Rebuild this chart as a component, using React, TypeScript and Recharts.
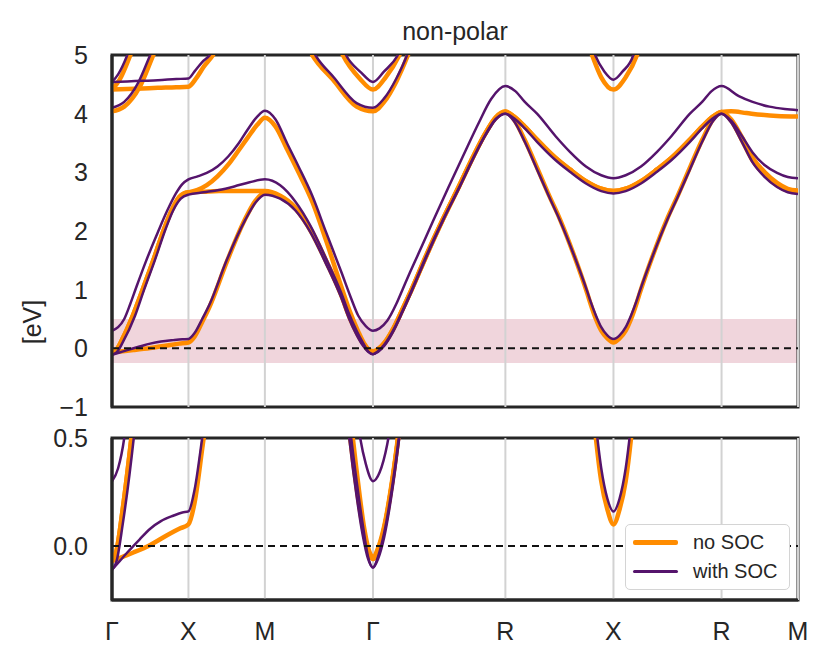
import React from 'react';
import { LineChart, Line, XAxis, YAxis, ReferenceLine, ReferenceArea, Legend } from 'recharts';

const ORANGE = '#ff8c00';
const PURPLE = '#55146c';
const INK = '#262626';
const FONT = '"Liberation Sans", Arial, sans-serif';

// high-symmetry path Γ-X-M-Γ-R-X-R-M (k in path length units)
const kTicks = [0, 0.5, 1.0, 1.707, 2.573, 3.28, 3.987, 4.487];
const kLabels = ['Γ', 'X', 'M', 'Γ', 'R', 'X', 'R', 'M'];
const kMax = 4.487;
const mainTicks = [-1, 0, 1, 2, 3, 4, 5];
const zoomTicks = [0, 0.5];

// no SOC bands [k, E]
const ncA = [
  [0, -0.07], [0.07, -0.05], [0.14, -0.03], [0.25, 0.005], [0.36, 0.05], [0.44, 0.08], [0.5, 0.1],
  [0.54, 0.2], [0.59, 0.45], [0.64, 0.72], [0.75, 1.47], [0.87, 2.2], [0.94, 2.52], [1.0, 2.65],
  [1.1, 2.58], [1.2, 2.38], [1.3, 2.0], [1.4, 1.48], [1.5, 0.9], [1.55, 0.55], [1.6, 0.27], [1.64, 0.09], [1.675, -0.02], [1.707, -0.06],
  [1.74, -0.02], [1.78, 0.08], [1.84, 0.33], [1.9, 0.66], [1.96, 1.0], [2.06, 1.6], [2.165, 2.2], [2.27, 2.76], [2.36, 3.25], [2.44, 3.65], [2.51, 3.93], [2.573, 4.03],
  [2.63, 3.9], [2.7, 3.55], [2.78, 3.08], [2.86, 2.6], [2.93, 2.2], [3.02, 1.6], [3.107, 0.95], [3.13, 0.76], [3.165, 0.5], [3.2, 0.3], [3.24, 0.17], [3.28, 0.1],
  [3.32, 0.17], [3.36, 0.3], [3.395, 0.5], [3.43, 0.76], [3.453, 0.95], [3.54, 1.6], [3.63, 2.2], [3.7, 2.6], [3.78, 3.08], [3.86, 3.55], [3.93, 3.9], [3.987, 4.03],
  [4.05, 3.88], [4.12, 3.55], [4.19, 3.2], [4.27, 2.95], [4.35, 2.78], [4.42, 2.69], [4.487, 2.66],
];
const ncB = [
  [0, -0.07], [0.03, -0.02], [0.07, 0.17], [0.13, 0.52], [0.2, 1.0], [0.27, 1.5], [0.34, 2.03], [0.39, 2.35], [0.44, 2.58], [0.47, 2.64], [0.5, 2.66],
  [0.6, 2.67], [0.7, 2.68], [0.8, 2.68], [0.9, 2.68], [1.0, 2.68],
  [1.1, 2.6], [1.2, 2.4], [1.3, 2.03], [1.4, 1.5], [1.5, 0.92], [1.55, 0.57], [1.6, 0.28], [1.64, 0.1], [1.675, -0.02], [1.707, -0.06],
  [1.74, -0.02], [1.78, 0.08], [1.84, 0.33], [1.9, 0.66], [1.96, 1.0], [2.06, 1.6], [2.165, 2.2], [2.27, 2.76], [2.36, 3.25], [2.44, 3.65], [2.51, 3.93], [2.573, 4.03],
  [2.63, 3.95], [2.7, 3.78], [2.78, 3.56], [2.9, 3.25], [2.995, 3.05], [3.1, 2.85], [3.2, 2.72], [3.28, 2.68],
  [3.36, 2.72], [3.46, 2.85], [3.565, 3.05], [3.66, 3.25], [3.78, 3.56], [3.86, 3.78], [3.93, 3.95], [3.987, 4.03],
  [4.05, 3.9], [4.12, 3.6], [4.19, 3.25], [4.27, 3.0], [4.35, 2.82], [4.42, 2.72], [4.487, 2.69],
];
const ncC = [
  [0, -0.07], [0.03, -0.02], [0.07, 0.17], [0.13, 0.52], [0.2, 1.0], [0.27, 1.5], [0.34, 2.03], [0.39, 2.35], [0.44, 2.58], [0.47, 2.64], [0.5, 2.66],
  [0.56, 2.7], [0.62, 2.78], [0.69, 2.93], [0.76, 3.13], [0.83, 3.38], [0.89, 3.6], [0.95, 3.81], [1.0, 3.93],
  [1.07, 3.78], [1.144, 3.4], [1.22, 3.0], [1.31, 2.5], [1.4, 1.84], [1.5, 1.05], [1.56, 0.6], [1.61, 0.29], [1.65, 0.08], [1.68, -0.02], [1.707, -0.05],
  [1.74, -0.01], [1.78, 0.09], [1.84, 0.34], [1.9, 0.67], [1.96, 1.01], [2.06, 1.62], [2.165, 2.21], [2.27, 2.77], [2.36, 3.26], [2.44, 3.66], [2.51, 3.94], [2.573, 4.04],
  [2.63, 3.95], [2.7, 3.78], [2.78, 3.56], [2.9, 3.25], [2.995, 3.05], [3.1, 2.85], [3.2, 2.72], [3.28, 2.68],
  [3.36, 2.72], [3.46, 2.85], [3.565, 3.05], [3.66, 3.25], [3.78, 3.56], [3.86, 3.78], [3.93, 3.95], [3.987, 4.03],
  [4.05, 4.04], [4.15, 4.01], [4.25, 3.98], [4.35, 3.96], [4.487, 3.95],
];
const ncUpFlat = [[0, 4.41], [0.1, 4.42], [0.2, 4.43], [0.3, 4.44], [0.42, 4.45], [0.5, 4.46], [0.55, 4.6], [0.6, 4.8], [0.66, 5.0], [0.72, 5.3]];
const ncUpSteep1 = [[0, 4.41], [0.05, 4.58], [0.12, 5.0], [0.17, 5.35]];
const ncUpSteep2 = [[0, 4.04], [0.08, 4.12], [0.18, 4.45], [0.27, 5.0], [0.32, 5.3]];
const ncUpG1 = [[1.25, 5.3], [1.31, 5.0], [1.445, 4.58], [1.6, 4.12], [1.707, 4.04], [1.78, 4.2], [1.86, 4.55], [1.936, 5.0], [1.98, 5.3]];
const ncUpG2 = [[1.46, 5.3], [1.51, 5.0], [1.62, 4.6], [1.707, 4.41], [1.79, 4.62], [1.88, 5.0], [1.93, 5.3]];
const ncUpX = [[3.1, 5.3], [3.14, 5.0], [3.2, 4.62], [3.28, 4.41], [3.36, 4.62], [3.434, 5.0], [3.47, 5.3]];

// with SOC bands [k, E]
const scA = [
  [0, -0.11], [0.05, -0.07], [0.1, -0.03], [0.18, 0.03], [0.25, 0.08], [0.32, 0.115], [0.4, 0.14], [0.46, 0.155], [0.5, 0.16],
  [0.54, 0.26], [0.59, 0.5], [0.64, 0.76], [0.75, 1.5], [0.87, 2.18], [0.94, 2.49], [1.0, 2.62],
  [1.1, 2.55], [1.2, 2.35], [1.3, 1.97], [1.4, 1.44], [1.5, 0.86], [1.55, 0.51], [1.6, 0.23], [1.64, 0.05], [1.675, -0.06], [1.707, -0.1],
  [1.74, -0.06], [1.78, 0.04], [1.84, 0.29], [1.9, 0.62], [1.96, 0.97], [2.06, 1.58], [2.165, 2.18], [2.27, 2.73], [2.36, 3.22], [2.44, 3.62], [2.51, 3.9], [2.573, 4.0],
  [2.63, 3.87], [2.7, 3.52], [2.78, 3.05], [2.86, 2.58], [2.93, 2.18], [3.02, 1.6], [3.107, 0.98], [3.13, 0.8], [3.165, 0.56], [3.2, 0.36], [3.24, 0.22], [3.28, 0.16],
  [3.32, 0.22], [3.36, 0.36], [3.395, 0.56], [3.43, 0.8], [3.453, 0.98], [3.54, 1.6], [3.63, 2.18], [3.7, 2.58], [3.78, 3.05], [3.86, 3.52], [3.93, 3.87], [3.987, 4.0],
  [4.05, 3.85], [4.12, 3.52], [4.19, 3.17], [4.27, 2.92], [4.35, 2.75], [4.42, 2.66], [4.487, 2.63],
];
const scB = [
  [0, -0.11], [0.03, -0.07], [0.07, 0.1], [0.15, 0.55], [0.21, 1.0], [0.28, 1.5], [0.35, 2.03], [0.4, 2.35], [0.45, 2.55], [0.5, 2.62],
  [0.6, 2.66], [0.7, 2.7], [0.8, 2.76], [0.9, 2.83], [1.0, 2.88],
  [1.1, 2.78], [1.2, 2.5], [1.3, 2.08], [1.4, 1.53], [1.5, 0.94], [1.55, 0.59], [1.6, 0.3], [1.64, 0.1], [1.675, -0.05], [1.707, -0.1],
  [1.74, -0.05], [1.78, 0.06], [1.84, 0.31], [1.9, 0.64], [1.96, 0.99], [2.06, 1.6], [2.165, 2.19], [2.27, 2.74], [2.36, 3.23], [2.44, 3.63], [2.51, 3.91], [2.573, 4.0],
  [2.63, 3.92], [2.7, 3.75], [2.78, 3.52], [2.9, 3.21], [2.995, 3.01], [3.1, 2.81], [3.2, 2.68], [3.28, 2.64],
  [3.36, 2.68], [3.46, 2.81], [3.565, 3.01], [3.66, 3.21], [3.78, 3.52], [3.86, 3.75], [3.93, 3.92], [3.987, 4.0],
  [4.05, 3.88], [4.12, 3.62], [4.19, 3.34], [4.27, 3.12], [4.35, 2.99], [4.42, 2.92], [4.487, 2.9],
];
const scC = [
  [0, 0.3], [0.04, 0.36], [0.08, 0.5], [0.12, 0.76], [0.16, 1.05], [0.22, 1.47], [0.3, 1.98], [0.36, 2.34], [0.42, 2.65], [0.46, 2.8], [0.5, 2.88],
  [0.56, 2.93], [0.62, 2.99], [0.69, 3.1], [0.76, 3.27], [0.83, 3.5], [0.89, 3.74], [0.95, 3.95], [1.0, 4.05],
  [1.07, 3.9], [1.144, 3.5], [1.22, 3.1], [1.31, 2.6], [1.4, 1.98], [1.5, 1.3], [1.56, 0.88], [1.61, 0.56], [1.66, 0.38], [1.707, 0.3],
  [1.75, 0.34], [1.8, 0.47], [1.86, 0.76], [1.9, 1.0], [1.95, 1.3], [2.03, 1.76], [2.1, 2.17], [2.2, 2.74], [2.3, 3.3], [2.4, 3.85], [2.48, 4.25], [2.573, 4.47],
  [2.64, 4.38], [2.7, 4.2], [2.78, 4.0], [2.9, 3.62], [2.995, 3.35], [3.1, 3.1], [3.2, 2.95], [3.28, 2.9],
  [3.36, 2.95], [3.46, 3.1], [3.565, 3.35], [3.66, 3.62], [3.78, 4.0], [3.86, 4.2], [3.92, 4.38], [3.987, 4.47],
  [4.1, 4.3], [4.19, 4.2], [4.3, 4.12], [4.4, 4.08], [4.487, 4.06],
];
const scUpFlat = [[0, 4.54], [0.1, 4.55], [0.2, 4.56], [0.3, 4.57], [0.42, 4.59], [0.5, 4.6], [0.54, 4.72], [0.59, 4.88], [0.64, 5.0], [0.7, 5.3]];
const scUpSteep1 = [[0, 4.54], [0.04, 4.67], [0.1, 5.0], [0.14, 5.3]];
const scUpSteep2 = [[0, 4.1], [0.08, 4.2], [0.17, 4.52], [0.25, 5.0], [0.3, 5.3]];
const scUpG1 = [[1.27, 5.3], [1.33, 5.0], [1.45, 4.62], [1.6, 4.18], [1.707, 4.1], [1.78, 4.26], [1.86, 4.6], [1.93, 5.0], [1.97, 5.3]];
const scUpG2 = [[1.48, 5.3], [1.53, 5.0], [1.63, 4.7], [1.707, 4.54], [1.78, 4.72], [1.87, 5.0], [1.92, 5.3]];
const scUpX = [[3.12, 5.3], [3.16, 5.0], [3.22, 4.72], [3.28, 4.58], [3.34, 4.72], [3.41, 5.0], [3.44, 5.3]];

const noSocBands = [ncA, ncB, ncC, ncUpFlat, ncUpSteep1, ncUpSteep2, ncUpG1, ncUpG2, ncUpX];
const socBands = [scA, scB, scC, scUpFlat, scUpSteep1, scUpSteep2, scUpG1, scUpG2, scUpX];

const legendItems = [
  { label: 'no SOC', color: ORANGE, width: 5 },
  { label: 'with SOC', color: PURPLE, width: 2.5 },
];

const toPts = (band: number[][]) => band.map(([k, e]) => ({ k, e }));
const frame = { stroke: INK, strokeWidth: 3 };
const tickStyle = { fill: INK, fontSize: 25, fontFamily: FONT };

const LegendBox = () => (
  <div style={{ background: '#fff', border: '1.5px solid #d4d4d4', borderRadius: 5, padding: '3px 8px 3px 7px', fontFamily: FONT, fontSize: 20, color: INK, width: 165, boxSizing: 'border-box' }}>
    {legendItems.map((it) => (
      <div key={it.label} style={{ display: 'flex', alignItems: 'center', height: 29 }}>
        <span style={{ display: 'inline-block', width: 45, height: it.width, background: it.color, borderRadius: 2, marginRight: 15 }} />
        <span>{it.label}</span>
      </div>
    ))}
  </div>
);

interface PanelProps {
  height: number;
  marginTop: number;
  marginBottom: number;
  yDomain: [number, number];
  yTicks: number[];
  fmt: (v: number) => string;
  showK?: boolean;
  showWindow?: boolean;
  showLegend?: boolean;
}

const BandPanel: React.FC<PanelProps> = ({ height, marginTop, marginBottom, yDomain, yTicks, fmt, showK, showWindow, showLegend }) => (
  <LineChart width={830} height={height} margin={{ top: marginTop, right: 32, bottom: marginBottom, left: 52 }}>
    <XAxis
      type="number" dataKey="k" domain={[0, kMax]} ticks={kTicks} interval={0} allowDataOverflow
      height={showK ? 40 : 0} tick={showK ? tickStyle : false} tickLine={false} tickSize={0} tickMargin={22}
      tickFormatter={(v: number) => kLabels[kTicks.indexOf(v)] ?? ''} axisLine={frame}
    />
    <YAxis
      type="number" domain={yDomain} ticks={yTicks} interval={0} allowDataOverflow width={60}
      tickLine={false} tickSize={0} tickMargin={24} tick={tickStyle} tickFormatter={fmt} axisLine={frame}
    />
    {showWindow && <ReferenceArea y1={-0.25} y2={0.5} fill="#cd738c" fillOpacity={0.3} stroke="none" />}
    {kTicks.map((k, i) => (
      <ReferenceLine key={'v' + i} x={k} stroke="#d2d2d2" strokeWidth={2} />
    ))}
    {noSocBands.map((b, i) => (
      <Line key={'n' + i} data={toPts(b)} dataKey="e" type="monotone" stroke={ORANGE} strokeWidth={4.5} dot={false} activeDot={false} isAnimationActive={false} />
    ))}
    {socBands.map((b, i) => (
      <Line key={'s' + i} data={toPts(b)} dataKey="e" type="monotone" stroke={PURPLE} strokeWidth={2.5} dot={false} activeDot={false} isAnimationActive={false} />
    ))}
    <ReferenceLine y={0} stroke="#111" strokeDasharray="7 5" strokeWidth={2} />
    <ReferenceArea x1={0} x2={kMax} y1={yDomain[0]} y2={yDomain[1]} fill="none" fillOpacity={0} stroke={INK} strokeWidth={3} />
    {showLegend && (
      <Legend layout="horizontal" verticalAlign="middle" content={() => <LegendBox />} wrapperStyle={{ left: 625, top: 99, width: 'auto' }} />
    )}
  </LineChart>
);

const fmtMain = (v: number) => (v < 0 ? '\u2212' + Math.abs(v) : String(v));
const fmtZoom = (v: number) => v.toFixed(1);

export default function App() {
  return (
    <div style={{ position: 'absolute', top: 0, left: 0, width: 830, height: 670, background: '#fff', fontFamily: FONT }}>
      <div style={{ position: 'absolute', top: 17, left: 112, width: 686, textAlign: 'center', fontSize: 25, lineHeight: '28px', color: INK }}>
        non-polar
      </div>
      <div style={{ position: 'absolute', left: 32, top: 322, transform: 'translate(-50%, -50%) rotate(-90deg)', fontSize: 25, color: INK, whiteSpace: 'nowrap' }}>
        [eV]
      </div>
      <div style={{ position: 'absolute', top: 0, left: 0 }}>
        <BandPanel height={420} marginTop={55} marginBottom={13} yDomain={[-1, 5]} yTicks={mainTicks} fmt={fmtMain} showWindow />
      </div>
      <div style={{ position: 'absolute', top: 425, left: 0 }}>
        <BandPanel height={240} marginTop={13} marginBottom={25} yDomain={[-0.25, 0.5]} yTicks={zoomTicks} fmt={fmtZoom} showK showLegend />
      </div>
    </div>
  );
}
